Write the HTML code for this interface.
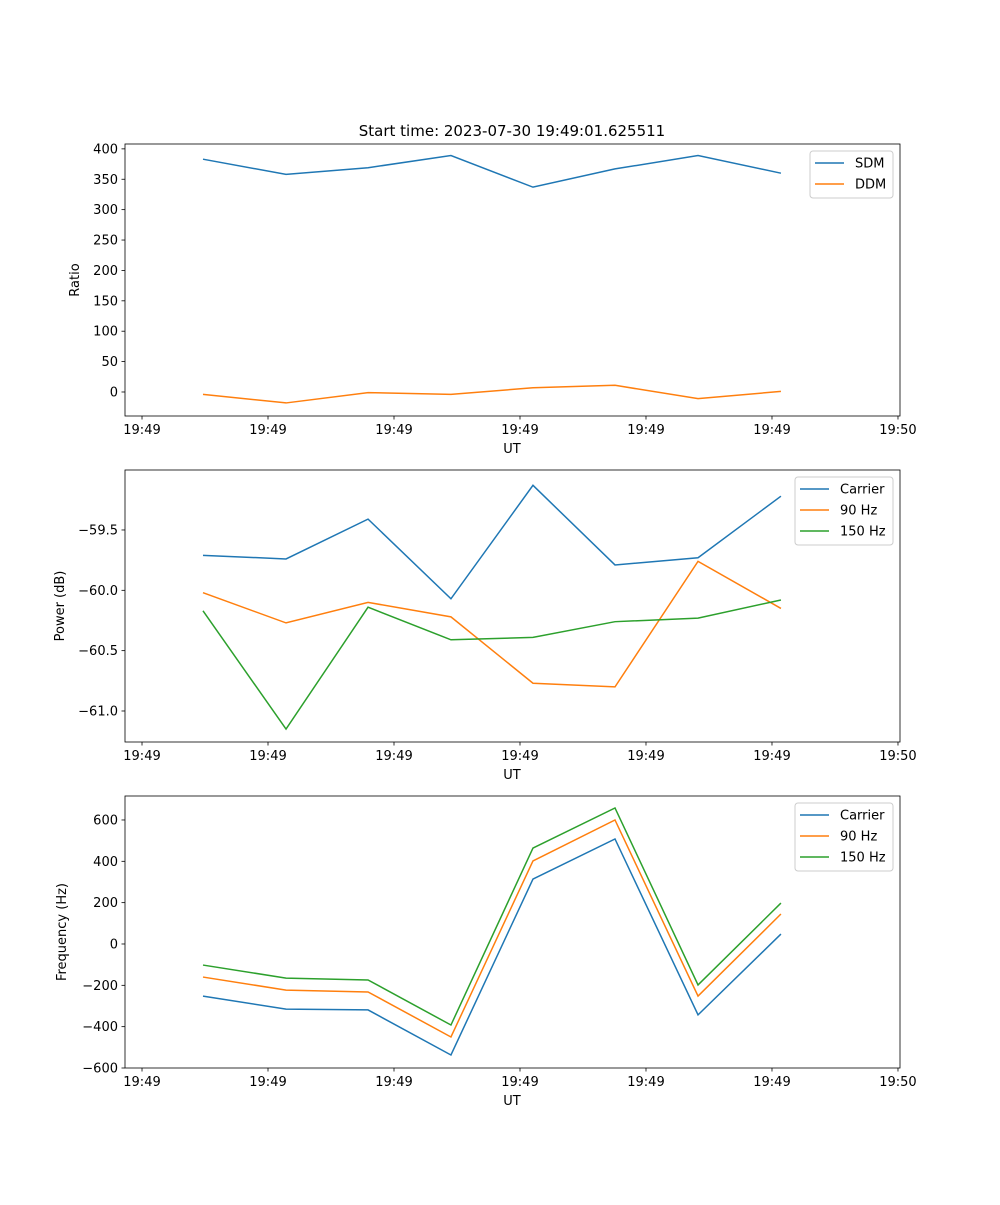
<!DOCTYPE html>
<html><head><meta charset="utf-8"><style>
body{margin:0;background:#fff}
svg text{font-family:"DejaVu Sans","Liberation Sans",sans-serif;font-size:13px;fill:#000}
</style></head><body>
<svg id="chart" width="1000" height="1200" xmlns="http://www.w3.org/2000/svg">
<rect width="1000" height="1200" fill="#fff"/>
<text x="512" y="136" text-anchor="middle" style="font-size:15px">Start time: 2023-07-30 19:49:01.625511</text>
</svg>
<script>
const times=[4.84,11.43,17.94,24.52,31.03,37.54,44.13,50.71];
const xTicks=[0,10,20,30,40,50,60];
const xTickLabels=["19:49","19:49","19:49","19:49","19:49","19:49","19:50"];
const sdm=[383,358,369,389,337,367,389,360];
const ddm=[-4,-18,-1,-4,7,11,-11,1];
const pCarrier=[-59.71,-59.74,-59.41,-60.07,-59.13,-59.79,-59.73,-59.22];
const p90=[-60.02,-60.27,-60.10,-60.22,-60.77,-60.80,-59.76,-60.15];
const p150=[-60.17,-61.15,-60.14,-60.41,-60.39,-60.26,-60.23,-60.08];
const fCarrier=[-252,-315,-319,-537,314,508,-343,48];
const f90=[-160,-223,-232,-450,402,600,-252,145];
const f150=[-102,-165,-174,-392,464,658,-198,198];
const ticks1=[0,50,100,150,200,250,300,350,400];
const ticks2=[-61.0,-60.5,-60.0,-59.5];
const tickLabels2=["\u221261.0","\u221260.5","\u221260.0","\u221259.5"];
const ticks3=[-600,-400,-200,0,200,400,600];
const tickLabels3=["\u2212600","\u2212400","\u2212200","0","200","400","600"];
const C=["#1f77b4","#ff7f0e","#2ca02c"];
const svg=document.getElementById('chart');
const NS="http://www.w3.org/2000/svg";
function mk(t,a,p){const e=document.createElementNS(NS,t);for(const k in a)e.setAttribute(k,a[k]);(p||svg).appendChild(e);return e;}
const X0=125,X1=900,xmin=-1.35,xmax=60.16;
const xs=v=>X0+(v-xmin)/(xmax-xmin)*(X1-X0);
function panel(name,top,bot,ymin,ymax,yt,ytl,ylabel,ylx,series,legend){
  const g=mk('g',{});
  
  
  const ys=v=>bot-(v-ymin)/(ymax-ymin)*(bot-top);
  series.forEach((s,i)=>{
    const pl=mk('polyline',{points:s.d.map((v,j)=>xs(times[j])+','+ys(v)).join(' '),fill:'none',stroke:C[i],'stroke-width':1.5},g);
    
    
  });
  mk('rect',{x:X0,y:top,width:X1-X0,height:bot-top,fill:'none',stroke:'#000','stroke-width':0.8},g);
  xTicks.forEach((t,i)=>{const x=xs(t);mk('line',{x1:x,x2:x,y1:bot,y2:bot+3.5,stroke:'#000','stroke-width':0.8},g);
    const tx=mk('text',{x:x,y:bot+18,'text-anchor':'middle'},g);tx.textContent=xTickLabels[i];
    
    });
  yt.forEach((t,i)=>{const y=ys(t);mk('line',{x1:X0-3.5,x2:X0,y1:y,y2:y,stroke:'#000','stroke-width':0.8},g);
    const tx=mk('text',{x:X0-7,y:y+4.5,'text-anchor':'end'},g);tx.textContent=ytl[i];
    
    });
  const xl=mk('text',{x:512,y:bot+37,'text-anchor':'middle'},g);xl.textContent='UT';
  
  
  const yl=mk('text',{x:ylx,y:(top+bot)/2,'text-anchor':'middle',transform:`rotate(-90 ${ylx} ${(top+bot)/2})`},g);yl.textContent=ylabel;
  
  
  const lg=mk('g',{},g);
  
  
  mk('rect',{x:legend.x,y:top+7,width:893-legend.x,height:series.length*21+5,rx:3,fill:'#fff',stroke:'#ccc','stroke-width':1},lg);
  series.forEach((s,i)=>{const y=top+19+i*21;
    mk('line',{x1:legend.x+5,x2:legend.x+34,y1:y,y2:y,stroke:C[i],'stroke-width':1.5},lg);
    const t=mk('text',{x:legend.x+45,y:y+4.5},lg);t.textContent=s.n;
    
    });
}
panel('ratio-panel',144,416,-39.5,408,ticks1,ticks1.map(String),'Ratio',79,[{n:'SDM',d:sdm},{n:'DDM',d:ddm}],{x:810});
panel('power-panel',470,742,-61.257,-59.003,ticks2,tickLabels2,'Power (dB)',64,[{n:'Carrier',d:pCarrier},{n:'90 Hz',d:p90},{n:'150 Hz',d:p150}],{x:795});
panel('frequency-panel',796,1068,-600,716,ticks3,tickLabels3,'Frequency (Hz)',66,[{n:'Carrier',d:fCarrier},{n:'90 Hz',d:f90},{n:'150 Hz',d:f150}],{x:795});
</script>
</body></html>
